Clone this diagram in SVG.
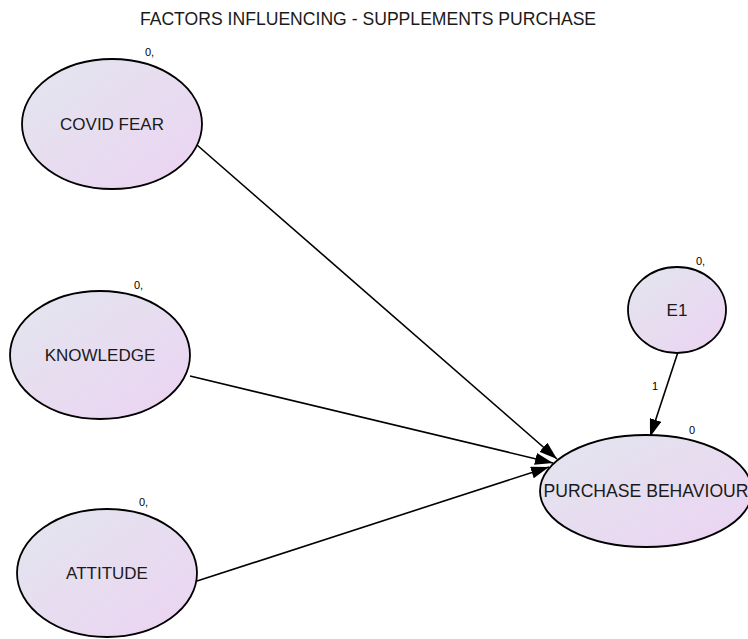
<svg xmlns="http://www.w3.org/2000/svg" width="748" height="639" viewBox="0 0 748 639">
<defs>
<linearGradient id="g" x1="0" y1="0" x2="1" y2="1">
<stop offset="0" stop-color="#e2e6ee"/>
<stop offset="1" stop-color="#ecd3f2"/>
</linearGradient>
<marker id="ah" viewBox="0 0 18 12" refX="18" refY="6" markerWidth="18" markerHeight="12" markerUnits="userSpaceOnUse" orient="auto">
<path d="M0,0 L18,6 L0,12 z" fill="#000"/>
</marker>
<style>
.n{fill:url(#g);stroke:#000;stroke-width:1.8}
.t{font-family:"Liberation Sans",Arial,sans-serif;font-size:17px;fill:#1a1a1a;text-anchor:middle}
.s{font-family:"Liberation Sans",Arial,sans-serif;font-size:11px;fill:#000}
.c{stroke:#000;stroke-width:1.6;fill:none;marker-end:url(#ah)}
</style>
</defs>
<rect width="748" height="639" fill="#fff"/>
<text x="368" y="25" class="t" style="font-size:17.6px">FACTORS INFLUENCING - SUPPLEMENTS PURCHASE</text>
<g id="connectors">
<line class="c" x1="197" y1="145" x2="557" y2="459"/>
<line class="c" x1="190" y1="376" x2="553" y2="463"/>
<line class="c" x1="197" y1="581" x2="549" y2="467"/>
<line class="c" x1="678" y1="352" x2="650" y2="437"/>
<text class="s" x="652" y="390">1</text>
</g>
<g id="covid">
<ellipse class="n" cx="112" cy="124" rx="90" ry="65"/>
<text class="t" x="112" y="130">COVID FEAR</text>
<text class="s" x="145" y="56">0,</text>
</g>
<g id="knowledge">
<ellipse class="n" cx="100" cy="355" rx="90" ry="64"/>
<text class="t" x="100" y="361">KNOWLEDGE</text>
<text class="s" x="134" y="289">0,</text>
</g>
<g id="attitude">
<ellipse class="n" cx="107" cy="573" rx="90" ry="64"/>
<text class="t" x="107" y="579">ATTITUDE</text>
<text class="s" x="139" y="506">0,</text>
</g>
<g id="e1">
<ellipse class="n" cx="677" cy="310" rx="49" ry="43"/>
<text class="t" x="677" y="316">E1</text>
<text class="s" x="696" y="265">0,</text>
</g>
<g id="purchase">
<ellipse class="n" cx="646" cy="491" rx="106" ry="56"/>
<text class="t" x="646" y="497" style="font-size:17.6px">PURCHASE BEHAVIOUR</text>
<text class="s" x="689" y="434">0</text>
</g>
</svg>
